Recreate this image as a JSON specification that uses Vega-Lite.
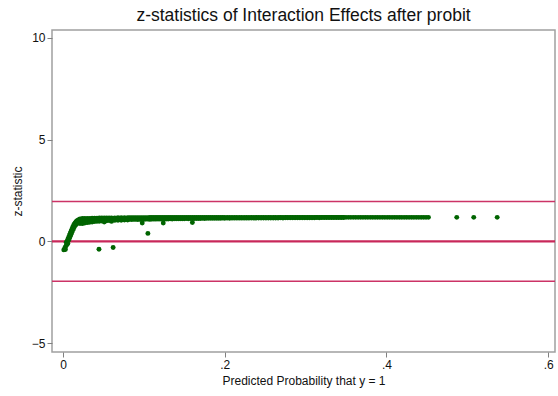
{
  "$schema": "https://vega.github.io/schema/vega-lite/v6.json",
  "width": 503,
  "height": 322,
  "autosize": {"type": "none"},
  "padding": {"left": 52, "top": 30, "right": 3, "bottom": 44},
  "background": "white",
  "config": {
    "font": "Liberation Sans",
    "view": {"stroke": "#a0a0a0", "strokeWidth": 1.5},
    "axis": {"grid": false, "domain": false, "tickColor": "#808080", "tickSize": 5, "labelFont": "Liberation Sans", "titleFont": "Liberation Sans", "labelFontSize": 12, "titleFontSize": 12, "labelColor": "#111", "titleColor": "#111", "titleFontWeight": "normal"}
  },
  "title": {"text": "z-statistics of Interaction Effects after probit", "fontSize": 17.5, "font": "Liberation Sans", "fontWeight": "normal", "color": "#111", "anchor": "middle", "offset": 6},
  "datasets": {
    "pts": [
      {"p":0.001,"z":-0.42},{"p":0.002,"z":-0.35},{"p":0.003,"z":-0.28},{"p":0.003,"z":-0.40},{"p":0.004,"z":-0.2},{"p":0.004,"z":-0.05},
      {"p":0.005,"z":0.0},{"p":0.005,"z":-0.15},{"p":0.006,"z":0.1},{"p":0.006,"z":-0.1},{"p":0.007,"z":0.2},{"p":0.007,"z":0.05},
      {"p":0.008,"z":0.3},{"p":0.008,"z":0.15},{"p":0.009,"z":0.4},{"p":0.009,"z":0.25},{"p":0.010,"z":0.5},{"p":0.010,"z":0.35},
      {"p":0.011,"z":0.6},{"p":0.011,"z":0.45},{"p":0.012,"z":0.7},{"p":0.012,"z":0.55},{"p":0.013,"z":0.78},{"p":0.013,"z":0.62},
      {"p":0.014,"z":0.85},{"p":0.014,"z":0.7},{"p":0.015,"z":0.9},{"p":0.015,"z":0.78},{"p":0.016,"z":0.95},{"p":0.016,"z":0.82},
      {"p":0.017,"z":1.0},{"p":0.017,"z":0.86},{"p":0.018,"z":1.02},{"p":0.018,"z":0.9},{"p":0.019,"z":1.05},{"p":0.019,"z":0.92},
      {"p":0.020,"z":1.07},{"p":0.020,"z":0.95},
      {"p":0.021,"z":1.10},{"p":0.021,"z":0.98},{"p":0.021,"z":0.88},
      {"p":0.024,"z":1.12},{"p":0.024,"z":1.0},{"p":0.024,"z":0.87},
      {"p":0.027,"z":1.12},{"p":0.027,"z":1.02},{"p":0.027,"z":0.90},
      {"p":0.030,"z":1.13},{"p":0.030,"z":1.03},{"p":0.030,"z":0.92},
      {"p":0.033,"z":1.13},{"p":0.033,"z":1.05},{"p":0.033,"z":0.94},
      {"p":0.036,"z":1.14},{"p":0.036,"z":1.05},{"p":0.036,"z":0.95},
      {"p":0.039,"z":1.14},{"p":0.039,"z":1.06},{"p":0.039,"z":0.97},
      {"p":0.042,"z":1.14},{"p":0.042,"z":1.07},{"p":0.042,"z":0.98},
      {"p":0.045,"z":1.15},{"p":0.045,"z":1.07},{"p":0.045,"z":0.99},
      {"p":0.048,"z":1.15},{"p":0.048,"z":1.08},{"p":0.048,"z":1.0},
      {"p":0.051,"z":1.15},{"p":0.051,"z":1.08},{"p":0.051,"z":0.95},
      {"p":0.054,"z":1.15},{"p":0.054,"z":1.09},{"p":0.054,"z":1.01},
      {"p":0.057,"z":1.15},{"p":0.057,"z":1.09},{"p":0.057,"z":1.02},
      {"p":0.060,"z":1.15},{"p":0.060,"z":1.1},{"p":0.060,"z":0.98},
      {"p":0.064,"z":1.15},{"p":0.064,"z":1.1},{"p":0.064,"z":1.03},
      {"p":0.068,"z":1.16},{"p":0.068,"z":1.1},{"p":0.068,"z":1.04},
      {"p":0.072,"z":1.16},{"p":0.072,"z":1.11},{"p":0.072,"z":1.04},
      {"p":0.076,"z":1.16},{"p":0.076,"z":1.11},{"p":0.076,"z":1.05},
      {"p":0.080,"z":1.16},{"p":0.080,"z":1.11},{"p":0.080,"z":1.05},
      {"p":0.0825,"z":1.16},{"p":0.0825,"z":1.08},
      {"p":0.0850,"z":1.16},{"p":0.0850,"z":1.07},{"p":0.0875,"z":1.16},{"p":0.0875,"z":1.08},
      {"p":0.0900,"z":1.16},{"p":0.0900,"z":1.08},{"p":0.0925,"z":1.16},{"p":0.0925,"z":1.07},
      {"p":0.0950,"z":1.16},{"p":0.0950,"z":1.08},{"p":0.0975,"z":1.16},{"p":0.0975,"z":1.08},
      {"p":0.098,"z":0.9},
      {"p":0.1000,"z":1.16},{"p":0.1000,"z":1.08},{"p":0.1025,"z":1.16},{"p":0.1025,"z":1.09},
      {"p":0.1050,"z":1.16},{"p":0.1050,"z":1.09},{"p":0.1075,"z":1.17},{"p":0.1075,"z":1.08},
      {"p":0.1100,"z":1.17},{"p":0.1100,"z":1.09},{"p":0.1125,"z":1.17},{"p":0.1125,"z":1.09},
      {"p":0.1150,"z":1.17},{"p":0.1150,"z":1.09},{"p":0.1175,"z":1.17},{"p":0.1175,"z":1.10},
      {"p":0.1200,"z":1.17},{"p":0.1200,"z":1.09},{"p":0.1225,"z":1.17},{"p":0.1225,"z":1.10},
      {"p":0.124,"z":0.9},
      {"p":0.1250,"z":1.17},{"p":0.1250,"z":1.10},{"p":0.1275,"z":1.17},{"p":0.1275,"z":1.10},
      {"p":0.1300,"z":1.17},{"p":0.1300,"z":1.10},{"p":0.1325,"z":1.17},{"p":0.1325,"z":1.11},
      {"p":0.1350,"z":1.17},{"p":0.1350,"z":1.10},{"p":0.1375,"z":1.17},{"p":0.1375,"z":1.11},
      {"p":0.1400,"z":1.17},{"p":0.1400,"z":1.11},{"p":0.1425,"z":1.17},{"p":0.1425,"z":1.11},
      {"p":0.1450,"z":1.17},{"p":0.1450,"z":1.11},{"p":0.1475,"z":1.17},{"p":0.1475,"z":1.11},
      {"p":0.1500,"z":1.17},{"p":0.1500,"z":1.11},{"p":0.1525,"z":1.17},{"p":0.1525,"z":1.12},
      {"p":0.1550,"z":1.17},{"p":0.1550,"z":1.11},{"p":0.1575,"z":1.17},{"p":0.1575,"z":1.12},
      {"p":0.160,"z":0.93},
      {"p":0.1600,"z":1.17},{"p":0.1600,"z":1.12},{"p":0.1625,"z":1.18},{"p":0.1625,"z":1.12},
      {"p":0.1650,"z":1.18},{"p":0.1650,"z":1.12},{"p":0.1675,"z":1.18},{"p":0.1675,"z":1.12},
      {"p":0.1700,"z":1.18},{"p":0.1700,"z":1.12},{"p":0.1725,"z":1.18},{"p":0.1725,"z":1.13},
      {"p":0.1750,"z":1.18},{"p":0.1750,"z":1.12},{"p":0.1775,"z":1.18},{"p":0.1775,"z":1.13},
      {"p":0.1800,"z":1.18},{"p":0.1800,"z":1.13},{"p":0.1825,"z":1.18},{"p":0.1825,"z":1.13},
      {"p":0.1850,"z":1.18},{"p":0.1850,"z":1.13},{"p":0.1875,"z":1.18},{"p":0.1875,"z":1.13},
      {"p":0.1900,"z":1.18},{"p":0.1900,"z":1.13},{"p":0.1925,"z":1.18},{"p":0.1925,"z":1.13},
      {"p":0.1950,"z":1.18},{"p":0.1950,"z":1.13},{"p":0.1975,"z":1.18},{"p":0.1975,"z":1.14},
      {"p":0.200,"z":1.18},{"p":0.200,"z":1.13},{"p":0.203,"z":1.18},{"p":0.203,"z":1.14},
      {"p":0.206,"z":1.18},{"p":0.206,"z":1.13},{"p":0.209,"z":1.18},{"p":0.209,"z":1.14},
      {"p":0.212,"z":1.18},{"p":0.212,"z":1.14},{"p":0.215,"z":1.18},{"p":0.215,"z":1.14},
      {"p":0.218,"z":1.18},{"p":0.218,"z":1.14},{"p":0.221,"z":1.18},{"p":0.221,"z":1.14},
      {"p":0.224,"z":1.18},{"p":0.224,"z":1.14},{"p":0.227,"z":1.18},{"p":0.227,"z":1.14},
      {"p":0.230,"z":1.18},{"p":0.230,"z":1.14},{"p":0.233,"z":1.18},{"p":0.233,"z":1.15},
      {"p":0.236,"z":1.18},{"p":0.236,"z":1.14},{"p":0.239,"z":1.18},{"p":0.239,"z":1.15},
      {"p":0.242,"z":1.18},{"p":0.242,"z":1.15},{"p":0.245,"z":1.18},{"p":0.245,"z":1.15},
      {"p":0.248,"z":1.18},{"p":0.248,"z":1.15},{"p":0.251,"z":1.18},{"p":0.251,"z":1.15},
      {"p":0.254,"z":1.18},{"p":0.254,"z":1.15},{"p":0.257,"z":1.18},{"p":0.257,"z":1.15},
      {"p":0.260,"z":1.18},{"p":0.260,"z":1.15},{"p":0.263,"z":1.18},{"p":0.263,"z":1.15},
      {"p":0.266,"z":1.18},{"p":0.266,"z":1.15},{"p":0.269,"z":1.18},{"p":0.269,"z":1.16},
      {"p":0.272,"z":1.18},{"p":0.272,"z":1.15},{"p":0.275,"z":1.18},{"p":0.275,"z":1.16},
      {"p":0.278,"z":1.18},{"p":0.278,"z":1.16},{"p":0.281,"z":1.18},{"p":0.281,"z":1.16},
      {"p":0.284,"z":1.18},{"p":0.284,"z":1.16},{"p":0.287,"z":1.18},{"p":0.287,"z":1.16},
      {"p":0.290,"z":1.18},{"p":0.290,"z":1.16},{"p":0.293,"z":1.18},{"p":0.293,"z":1.16},
      {"p":0.296,"z":1.18},{"p":0.296,"z":1.16},{"p":0.299,"z":1.18},{"p":0.299,"z":1.16},
      {"p":0.302,"z":1.18},{"p":0.302,"z":1.16},{"p":0.305,"z":1.18},{"p":0.305,"z":1.16},
      {"p":0.308,"z":1.18},{"p":0.308,"z":1.16},{"p":0.311,"z":1.18},{"p":0.311,"z":1.16},
      {"p":0.314,"z":1.18},{"p":0.314,"z":1.17},{"p":0.317,"z":1.18},{"p":0.317,"z":1.16},
      {"p":0.320,"z":1.18},{"p":0.320,"z":1.17},{"p":0.323,"z":1.18},{"p":0.323,"z":1.17},
      {"p":0.326,"z":1.18},{"p":0.326,"z":1.17},{"p":0.329,"z":1.18},{"p":0.329,"z":1.17},
      {"p":0.332,"z":1.18},{"p":0.332,"z":1.17},{"p":0.335,"z":1.18},{"p":0.335,"z":1.17},
      {"p":0.338,"z":1.18},{"p":0.338,"z":1.17},{"p":0.341,"z":1.18},{"p":0.341,"z":1.17},
      {"p":0.344,"z":1.18},{"p":0.344,"z":1.17},{"p":0.347,"z":1.18},{"p":0.347,"z":1.17},
      {"p":0.350,"z":1.18},{"p":0.353,"z":1.18},{"p":0.356,"z":1.18},{"p":0.359,"z":1.18},
      {"p":0.362,"z":1.18},{"p":0.365,"z":1.18},{"p":0.368,"z":1.18},{"p":0.371,"z":1.18},
      {"p":0.374,"z":1.18},{"p":0.377,"z":1.18},{"p":0.380,"z":1.18},{"p":0.383,"z":1.18},
      {"p":0.386,"z":1.18},{"p":0.389,"z":1.18},{"p":0.392,"z":1.18},{"p":0.395,"z":1.18},
      {"p":0.398,"z":1.18},{"p":0.401,"z":1.18},{"p":0.404,"z":1.18},{"p":0.407,"z":1.18},
      {"p":0.410,"z":1.18},{"p":0.413,"z":1.18},{"p":0.416,"z":1.18},{"p":0.419,"z":1.18},
      {"p":0.422,"z":1.18},{"p":0.425,"z":1.18},{"p":0.428,"z":1.18},{"p":0.431,"z":1.18},
      {"p":0.434,"z":1.18},{"p":0.437,"z":1.18},{"p":0.440,"z":1.18},{"p":0.443,"z":1.18},
      {"p":0.446,"z":1.18},{"p":0.449,"z":1.18},{"p":0.452,"z":1.18},
      {"p":0.487,"z":1.18},{"p":0.508,"z":1.18},{"p":0.537,"z":1.18},
      {"p":0.0445,"z":-0.39},{"p":0.062,"z":-0.3},{"p":0.105,"z":0.39}
    ],
    "lines": [
      {"y": 1.96},
      {"y": -1.96}
    ],
    "zero": [
      {"y": 0}
    ]
  },
  "layer": [
    {
      "data": {"name": "lines"},
      "mark": {"type": "rule", "stroke": "#cc3366", "strokeWidth": 1.6},
      "encoding": {
        "y": {"field": "y", "type": "quantitative", "scale": {"domain": [-5.44, 10.39], "nice": false, "zero": false}}
      }
    },
    {
      "data": {"name": "zero"},
      "mark": {"type": "rule", "stroke": "#c8285a", "strokeWidth": 2.2},
      "encoding": {
        "y": {"field": "y", "type": "quantitative"}
      }
    },
    {
      "data": {"name": "pts"},
      "mark": {"type": "circle", "color": "#006400", "opacity": 1, "size": 24},
      "encoding": {
        "x": {"field": "p", "type": "quantitative", "title": "Predicted Probability that y = 1",
              "scale": {"domain": [-0.0136, 0.6085], "nice": false, "zero": false},
              "axis": {"values": [0, 0.2, 0.4, 0.6], "labelExpr": "datum.value == 0 ? '0' : substring(format(datum.value, '.1f'), 1)", "titlePadding": 5, "labelPadding": 2}},
        "y": {"field": "z", "type": "quantitative", "title": "z-statistic",
              "scale": {"domain": [-5.44, 10.39], "nice": false, "zero": false},
              "axis": {"values": [-5, 0, 5, 10], "labelPadding": 2, "titlePadding": 7}}
      }
    }
  ]
}
